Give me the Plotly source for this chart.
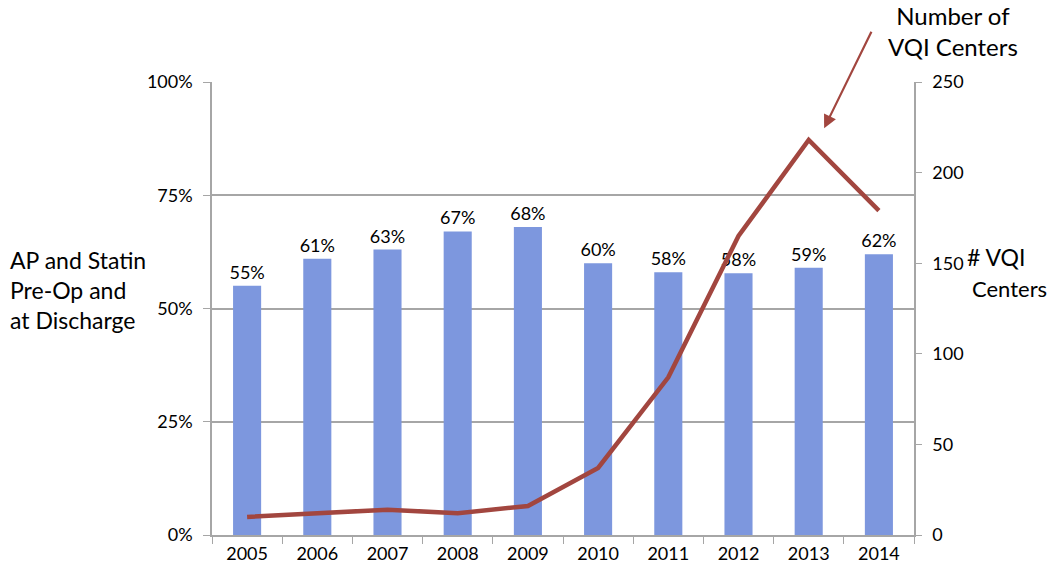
import plotly.graph_objects as go

years = ["2005", "2006", "2007", "2008", "2009", "2010", "2011", "2012", "2013", "2014"]
pct_values = [0.55, 0.61, 0.63, 0.67, 0.68, 0.60, 0.58, 0.578, 0.59, 0.62]
pct_labels = ["55%", "61%", "63%", "67%", "68%", "60%", "58%", "58%", "59%", "62%"]
centers = [10, 12, 14, 12, 16, 37, 87, 165, 218, 179]

FONT = "Lato"
GRAY = "#a6a6a6"
LINE = "#a2463f"

fig = go.Figure()
fig.add_trace(go.Bar(
    x=years, y=pct_values, width=0.4,
    marker=dict(color="#7d97de", line=dict(width=0)),
    text=pct_labels, textposition="outside", constraintext="none",
    textfont=dict(size=18, color="black", family=FONT),
    cliponaxis=False, showlegend=False,
))
fig.add_trace(go.Scatter(
    x=years, y=centers, yaxis="y2", mode="lines",
    line=dict(color=LINE, width=4.5), showlegend=False,
))

fig.update_layout(
    width=1050, height=571,
    margin=dict(l=212, r=136, t=82, b=36),
    paper_bgcolor="white", plot_bgcolor="white",
    font=dict(family=FONT, size=18, color="black"),
    xaxis=dict(type="category", tickson="boundaries", ticks="outside", ticklen=7,
               tickcolor=GRAY, showline=True, linecolor=GRAY, linewidth=1.5,
               showgrid=False, tickfont=dict(size=18), automargin=False,
               ticklabelstandoff=2),
    yaxis=dict(range=[0, 1], tickvals=[0, 0.25, 0.5, 0.75, 1], tickformat=".0%",
               showgrid=True, gridcolor=GRAY, gridwidth=1.5, zeroline=False,
               showline=True, linecolor=GRAY, linewidth=1.5, ticks="outside",
               ticklen=7, tickcolor=GRAY, tickfont=dict(size=18), automargin=False,
               ticklabelstandoff=7),
    yaxis2=dict(range=[0, 250], tickvals=[0, 50, 100, 150, 200, 250], overlaying="y",
                side="right", showgrid=False, zeroline=False, showline=True,
                linecolor=GRAY, linewidth=1.5, ticks="outside", ticklen=6,
                tickcolor=GRAY, tickfont=dict(size=18), automargin=False,
                ticklabelstandoff=7),
)

fig.add_annotation(xref="paper", yref="paper", x=-0.29, y=0.541, xanchor="left",
                   yanchor="middle", align="left", showarrow=False,
                   text="AP and Statin<br>Pre-Op and<br>at Discharge",
                   font=dict(size=23, family=FONT))
fig.add_annotation(xref="paper", yref="paper", x=1.072, y=0.613, xanchor="left",
                   yanchor="middle", showarrow=False, text="# VQI",
                   font=dict(size=23, family=FONT))
fig.add_annotation(xref="paper", yref="paper", x=1.08, y=0.545, xanchor="left",
                   yanchor="middle", showarrow=False, text="Centers",
                   font=dict(size=22, family=FONT))
fig.add_annotation(xref="paper", yref="paper", x=1.055, y=1.113, xanchor="center",
                   yanchor="middle", showarrow=False, text="Number of<br>VQI Centers",
                   font=dict(size=24, family=FONT))
fig.add_annotation(xref="paper", yref="paper", x=0.872, y=0.898, text="",
                   showarrow=True, arrowhead=2, arrowsize=1.2, arrowwidth=2.2,
                   arrowcolor=LINE, ax=48, ay=-98)

fig.write_html("out.html", config={"displayModeBar": False},
               post_script="document.body.style.margin='0';")
